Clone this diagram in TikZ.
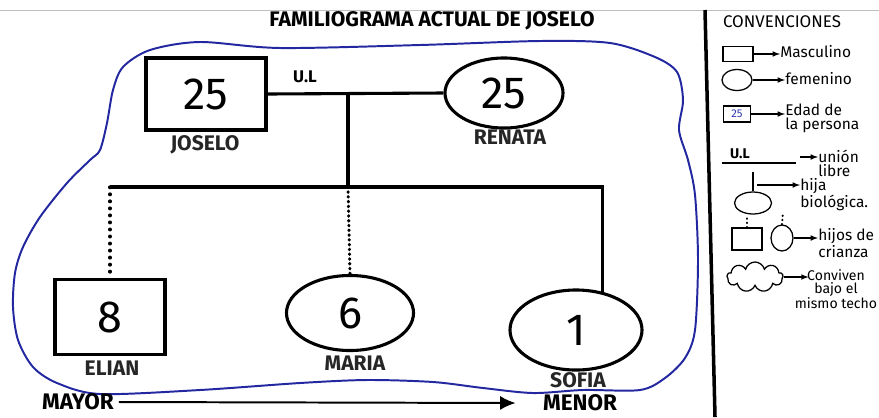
\documentclass[tikz,border=0pt]{standalone}
\usepackage{fontspec}
\setmainfont{Fira Sans}
\usetikzlibrary{positioning, arrows.meta, shapes}
\definecolor{contour}{RGB}{35,40,160}
\definecolor{inkblue}{RGB}{45,55,175}

\begin{document}
\begin{tikzpicture}[x=0.025cm, y=-0.025cm,
		male/.style={draw, rectangle, line width=2.2pt, inner sep=0pt},
		female/.style={draw, ellipse, line width=2.2pt, inner sep=0pt},
		age/.style={font=\fontsize{32}{34}\selectfont},
		nametag/.style={font=\fontsize{15}{17}\selectfont\bfseries, text=black!85},
		kin/.style={line width=2.2pt},
		crianza/.style={line width=2.4pt, line cap=round, dash pattern=on 0.4pt off 4.6pt},
		legline/.style={line width=0.9pt},
		legdots/.style={line width=1.5pt, line cap=round, dash pattern=on 0.3pt off 2.7pt},
		legtxt/.style={anchor=north west, align=left, inner sep=0pt, font=\fontsize{11}{10}\selectfont},
		legarrow/.style={-latex, line width=0.8pt}]
		\useasboundingbox (0,0) rectangle (879,417);
		\draw[gray!50, line width=0.6pt] (0,10) -- (879,10);
		
		\node (Titulo) at (432,21) [font=\fontsize{15}{17}\selectfont\bfseries]{FAMILIOGRAMA ACTUAL DE JOSELO};
		
		% hogar
		\draw[contour, line width=1.4pt] plot[smooth cycle] coordinates {(200,42) (280,48) (420,45)
		(540,41) (610,43) (655,57) (677,72) (683,100) (679,130) (688,160) (695,195) (698,260)
		(695,330) (685,358) (665,378) (640,390) (583,390) (533,393) (483,388) (433,382) (367,380)
		(300,383) (200,390) (100,394) (57,383) (33,367) (18,340) (13,307) (15,273) (23,247)
		(40,217) (67,183) (90,160) (100,150) (107,123) (113,90) (123,67) (150,50)};
		
		% padres
		\node (Joselo) at (206,94) [male, minimum width=3cm, minimum height=1.8cm, age]{25};
		\node (Renata) at (504,93) [female, minimum width=2.95cm, minimum height=1.75cm, age]{25};
		\node (Joselo name) at (205,145) [nametag]{JOSELO};
		\node (Renata name) at (510,137) [nametag]{RENATA};
		\node (UL) at (305,77) [font=\fontsize{12}{14}\selectfont\bfseries]{U.L};
		
		% hijos
		\node (Elian) at (110,317) [male, minimum width=2.75cm, minimum height=1.875cm, age]{8};
		\node (Maria) at (350,313) [female, minimum width=3.175cm, minimum height=1.875cm, age]{6};
		\node (Sofia) at (576,330) [female, minimum width=3.3cm, minimum height=2cm, age]{1};
		\node (Elian name) at (112,368) [nametag]{ELIAN};
		\node (Maria name) at (355,363) [nametag]{MARIA};
		\node (Sofia name) at (578,380) [nametag]{SOFIA};
		
		\coordinate (union) at (348,94);
		\coordinate (fork) at (348,187);
		\draw[kin] (Joselo.east) -- (Renata.west);
		\draw[kin] (union) -- (fork);
		\draw[kin] (Elian.north |- fork) -- (Sofia.55 |- fork) -- (Sofia.55);
		\draw[crianza] (Elian.north |- fork) -- (Elian.north);
		\draw[crianza, line width=2.2pt, dash pattern=on 0.4pt off 3pt] (fork) -- (Maria.north);
		
		\node (Mayor) at (78,402) [font=\fontsize{16}{18}\selectfont\bfseries]{MAYOR};
		\node (Menor) at (580,403) [font=\fontsize{16}{18}\selectfont\bfseries]{MENOR};
		\draw[-{Latex[length=11pt,width=10pt]}, line width=1.4pt] (Mayor.east) -- ([xshift=-16pt]Menor.west);
		
		% convenciones
		\coordinate (divTop) at (705,10);
		\coordinate (divBot) at (715,417);
		\draw[line width=2.5pt] (divTop) -- (divBot);
		\node (Convenciones) at (782,22) [font=\fontsize{12}{14}\selectfont]{CONVENCIONES};
		
		\node (legM) at (738,54) [draw, rectangle, legline, minimum width=0.75cm, minimum height=0.375cm]{};
		\node (txtM) at (780,45) [legtxt]{Masculino};
		\draw[legarrow] (legM.east) -- (legM.east -| txtM.west);
		
		\node (legF) at (737,80) [draw, ellipse, legline, minimum width=0.75cm, minimum height=0.525cm]{};
		\node (txtF) at (785,72) [legtxt]{femenino};
		\draw[legarrow] (legF.east) -- (legF.east -| txtF.west);
		
		\node (legE) at (737,114) [draw, rectangle, legline, minimum width=0.675cm, minimum height=0.4cm,
		inner sep=0pt, text=inkblue, font=\fontsize{8}{9}\selectfont]{25};
		\node (txtE) at (785,104) [legtxt]{Edad de\\la persona};
		\draw[legarrow] (legE.east) -- (legE.east -| txtE.west);
		
		\node (legUL) at (740,154) [font=\fontsize{10}{11}\selectfont\bfseries]{U.L};
		\coordinate (ulA) at (722,163);
		\coordinate (ulB) at (796,163);
		\draw[legline] (ulA) -- (ulB);
		\node (txtUL) at (818,150) [legtxt]{unión\\libre};
		\coordinate (ulArrow) at (800,157);
		\draw[legarrow] (ulArrow) -- (ulArrow -| txtUL.west);
		
		\node (legH) at (753,203) [draw, ellipse, legline, minimum width=0.925cm, minimum height=0.55cm]{};
		\coordinate (hStem) at (753,172);
		\draw[legline] (legH.north) -- (hStem);
		\coordinate (hArrow) at (757,185);
		\node (txtH) at (800,178) [legtxt]{hija\\biológica.};
		\draw[legarrow] (hArrow) -- (hArrow -| txtH.west);
		
		\node (legCM) at (747,239) [draw, rectangle, legline, minimum width=0.75cm, minimum height=0.55cm]{};
		\node (legCF) at (782,238) [draw, ellipse, legline, minimum width=0.55cm, minimum height=0.65cm]{};
		\coordinate (cmTop) at (747,216);
		\coordinate (cfTop) at (783,212);
		\draw[legdots] (legCM.north) -- (cmTop);
		\draw[legdots] (legCF.north) -- (cfTop);
		\node (txtC) at (818,228) [legtxt]{hijos de\\crianza};
		\draw[legarrow] (legCF.east) -- (legCF.east -| txtC.west);
		
		\node (legT) at (755,277) [draw, cloud, cloud puffs=9, aspect=1.8, legline, minimum width=1.4cm,
		minimum height=0.75cm]{};
		\node (txtT) at (836,269) [anchor=north, align=center, inner sep=0pt, font=\fontsize{10}{9.5}\selectfont]{Conviven\\bajo el\\mismo techo};
		\draw[legarrow] (legT.east) -- ++(25,0);
\end{tikzpicture}
\end{document}
